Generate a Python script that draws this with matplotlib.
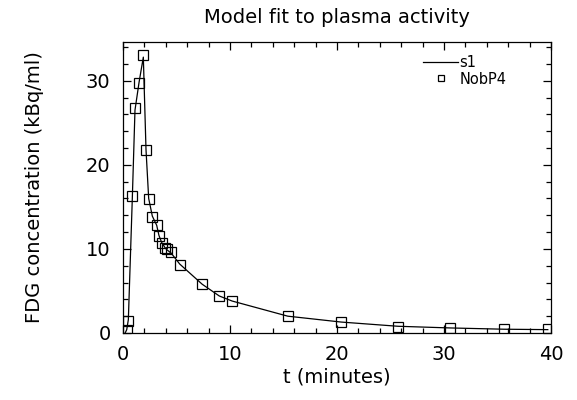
import matplotlib
matplotlib.use("Agg")
from matplotlib import pyplot as plt
from matplotlib.ticker import MultipleLocator

# measured plasma activity (NobP4)
t_obs = [0.35, 0.5, 0.87, 1.12, 1.5, 1.9, 2.15, 2.4, 2.74, 3.15, 3.36, 3.6,
         3.9, 4.1, 4.5, 5.3, 7.4, 9.0, 10.2, 15.4, 20.4, 25.7, 30.6, 35.6, 39.7]
c_obs = [0.35, 1.4, 16.3, 26.7, 29.7, 33.0, 21.7, 15.9, 13.8, 12.9, 11.5, 10.7,
         10.1, 10.0, 9.6, 8.1, 5.8, 4.4, 3.8, 2.0, 1.27, 0.75, 0.6, 0.44, 0.44]

# model fit (s1)
t_fit = [0.2, 0.35, 0.5, 0.87, 1.12, 1.5, 1.9, 2.15, 2.4, 2.74, 3.15, 3.36, 3.6,
         3.9, 4.1, 4.5, 5.3, 7.4, 9.0, 10.2, 15.4, 20.4, 25.7, 30.6, 35.6, 39.7]
c_fit = [0.0, 0.4, 1.6, 16.0, 26.5, 29.8, 32.8, 21.8, 16.0, 13.9, 12.8, 11.6, 10.8,
         10.2, 9.9, 9.5, 8.2, 5.8, 4.4, 3.8, 2.0, 1.3, 0.8, 0.6, 0.45, 0.4]

plt.rcParams['font.family'] = 'DejaVu Sans'
fig = plt.figure(figsize=(5.77, 4.0), dpi=100)
ax = fig.add_axes([123/577, 1-333/400, 428/577, 291/400])

ax.plot(t_fit, c_fit, color='k', lw=0.9, label='s1')
ax.plot(t_obs, c_obs, ls='none', marker='s', ms=6.5, mfc='none', mec='k',
        mew=0.9, label='NobP4')

ax.set_xlim(0, 40)
ax.set_ylim(0, 34.6)
ax.xaxis.set_major_locator(MultipleLocator(10))
ax.xaxis.set_minor_locator(MultipleLocator(2))
ax.yaxis.set_major_locator(MultipleLocator(10))
ax.yaxis.set_minor_locator(MultipleLocator(2))
ax.tick_params(which='both', direction='in', top=True, right=True,
               labelsize=14, width=0.9)
ax.tick_params(which='major', length=6)
ax.tick_params(which='minor', length=3.5)
ax.tick_params(axis='x', pad=9)
ax.tick_params(axis='y', pad=9)
for s in ax.spines.values():
    s.set_linewidth(0.9)

ax.set_title('Model fit to plasma activity', fontsize=14, pad=14)
ax.set_xlabel('t (minutes)', fontsize=14, labelpad=2)
ax.set_ylabel('FDG concentration (kBq/ml)', fontsize=14, labelpad=30)

ax.legend(loc='upper right', bbox_to_anchor=(0.92, 0.99), frameon=False,
          fontsize=10.5, markerscale=0.7, handlelength=2.4, handletextpad=0.1,
          labelspacing=0.1, borderpad=0.2)

fig.savefig('out.png', dpi=100)
